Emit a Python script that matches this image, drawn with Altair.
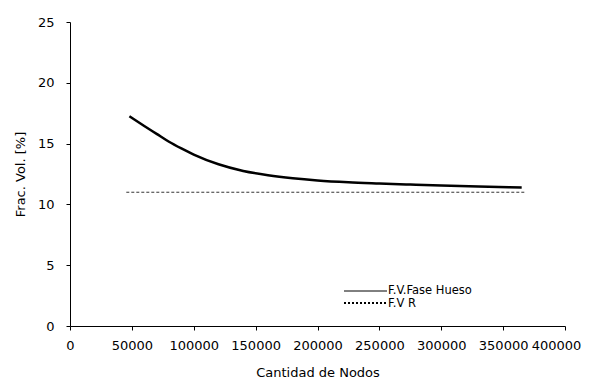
import altair as alt
import pandas as pd

nodes = [48000, 60000, 70000, 80000, 90000, 100000, 120000, 140000, 160000,
         180000, 200000, 225000, 250000, 275000, 300000, 330000, 365000]
frac_hueso = [17.25, 16.45, 15.8, 15.15, 14.6, 14.1, 13.3, 12.75, 12.4,
              12.15, 11.97, 11.82, 11.72, 11.63, 11.55, 11.47, 11.4]
nodes_r = [45500, 368000]
frac_r = [11.0, 11.0]

series = ["F.V.Fase Hueso", "F.V R"]

font = "DejaVu Sans"

df_h = pd.DataFrame({"x": nodes, "y": frac_hueso})
df_r = pd.DataFrame({"x": nodes_r, "y": frac_r})

xenc = alt.X("x:Q", scale=alt.Scale(domain=[0, 400000], nice=False),
             axis=alt.Axis(title="Cantidad de Nodos", values=list(range(0, 400001, 50000)),
                           format="d", grid=False, titlePadding=14, labelPadding=9,
                           labelOverlap=False, labelFlush=False,
                           labelOffset={"condition": {"test": "datum.value == 400000", "value": -9},
                                        "value": 0}))
yenc = alt.Y("y:Q", scale=alt.Scale(domain=[0, 25], nice=False),
             axis=alt.Axis(title="Frac. Vol. [%]", values=[0, 5, 10, 15, 20, 25],
                           grid=False, titlePadding=10, labelPadding=12, labelOverlap=False,
                           labelFlush=False))

line_h = alt.Chart(df_h).mark_line(color="black", strokeWidth=2.5, interpolate="monotone").encode(
    x=xenc, y=yenc, order=alt.Order("x:Q"))
line_r = alt.Chart(df_r).mark_line(color="#333333", strokeWidth=1, strokeDash=[3, 2]).encode(
    x="x:Q", y="y:Q")

leg_h = alt.Chart(pd.DataFrame({"label": [series[0]]}))
leg_r = alt.Chart(pd.DataFrame({"label": [series[1]]}))

leg_line_h = leg_h.mark_rule(color="black", strokeWidth=1).encode(
    x=alt.value(274), x2=alt.value(317), y=alt.value(269))
leg_line_r = leg_r.mark_rule(color="black", strokeWidth=2, strokeDash=[2, 2]).encode(
    x=alt.value(274), x2=alt.value(317), y=alt.value(281))
leg_text_h = leg_h.mark_text(align="left", baseline="middle", font=font, fontSize=11.5, color="black").encode(
    text="label:N", x=alt.value(318), y=alt.value(269))
leg_text_r = leg_r.mark_text(align="left", baseline="middle", font=font, fontSize=11.5, color="black").encode(
    text="label:N", x=alt.value(318), y=alt.value(282))

chart = alt.layer(line_h, line_r, leg_line_h, leg_line_r, leg_text_h, leg_text_r).properties(
    width=495, height=304,
    autosize=alt.AutoSizeParams(type="none"),
    padding={"left": 62, "top": 14, "right": 19, "bottom": 53},
).configure_view(stroke=None).configure_axis(
    domainColor="black", tickColor="black", labelColor="black", titleColor="black",
    labelFont=font, titleFont=font, labelFontSize=13, titleFontSize=13,
    titleFontWeight="normal", tickSize=4,
)

chart.save("out.html", embed_options={"renderer": "svg", "actions": False})
